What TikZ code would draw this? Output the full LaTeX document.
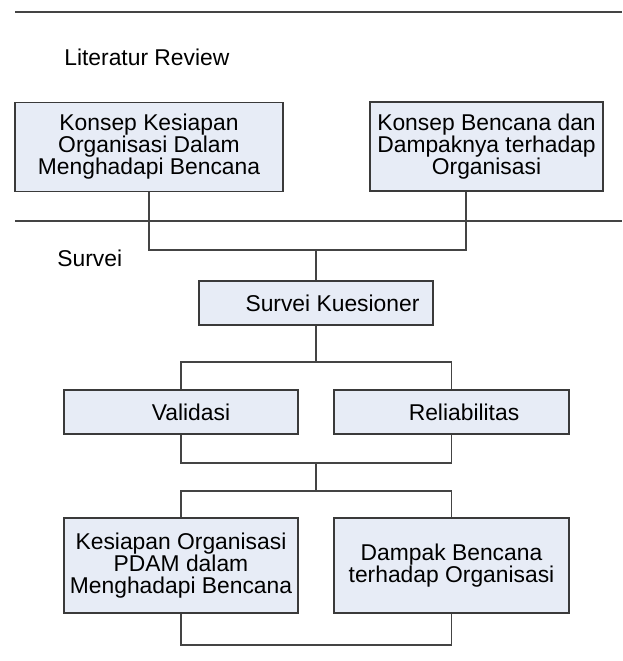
\documentclass[tikz,border=0pt]{standalone}
\usepackage{fontspec}
\setmainfont{Liberation Sans}
\usepackage{xcolor}
\definecolor{boxfill}{HTML}{E7ECF6}
\definecolor{boxline}{HTML}{3A3A3A}
\definecolor{ruleline}{HTML}{444444}

\begin{document}
\begin{tikzpicture}[
  x=0.02cm,
  y=-0.02cm,
  every node/.style={font=\fontsize{13}{12.5}\selectfont, text=black},
  stage/.style={draw=boxline, fill=boxfill, line width=0.7pt, align=center,
                inner sep=0pt},
  topbox/.style={stage, minimum height=1.78cm},
  flatbox/.style={stage, minimum width=4.68cm, minimum height=0.88cm},
  tallbox/.style={stage, minimum width=4.68cm, minimum height=1.90cm},
  link/.style={ruleline, line width=0.7pt},
  divider/.style={ruleline, line width=0.7pt}
]
  \useasboundingbox (0,0) rectangle (622,661);

  % ---- section rules ----
  \draw[divider] (15,12) -- (622,12);
  \draw[divider] (15,221) -- (622,221);

  % ---- section titles ----
  \node[anchor=base west, inner sep=0pt] (littitle) at (64,66) {Literatur Review};
  \node[anchor=base west, inner sep=0pt] (survtitle) at (57,267) {Survei};

  % ---- literature boxes ----
  \node[topbox, minimum width=5.36cm] (konsepa) at (149,147)
    {Konsep Kesiapan\\Organisasi Dalam\\Menghadapi Bencana};
  \node[topbox, minimum width=4.66cm] (konsepb) at (486.5,146.5)
    {Konsep Bencana dan\\Dampaknya terhadap\\Organisasi};

  % ---- survey boxes (labels sit a little right of centre) ----
  \node[flatbox] (kuesioner) at (316,303) {\hspace*{0.66cm}Survei Kuesioner};
  \node[flatbox] (validasi) at (181,412) {\hspace*{0.4cm}Validasi};
  \node[flatbox, minimum width=4.70cm] (reliabel) at (451.5,412)
    {\hspace*{0.5cm}Reliabilitas};

  % ---- result boxes ----
  \node[tallbox] (kesiapan) at (181,565.5)
    {Kesiapan Organisasi\\PDAM dalam\\Menghadapi Bencana};
  \node[tallbox, minimum width=4.70cm] (dampak) at (451.5,565.5)
    {Dampak Bencana\\terhadap Organisasi};

  % ---- junctions ----
  \coordinate (jlit) at (316,250);
  \coordinate (jsurv) at (316,362);
  \coordinate (jval) at (316,463);
  \coordinate (jhasil) at (316,491);
  \coordinate (jend) at (316,645);

  % ---- connectors ----
  \draw[link] (konsepa.south) |- (jlit) -| ([xshift=-0.41cm]konsepb.south);
  \draw[link] (jlit) -- (kuesioner.north);
  \draw[link] (kuesioner.south) -- (jsurv);
  \draw[link] (validasi.north) |- (jsurv) -| (reliabel.north);
  \draw[link] (validasi.south) |- (jval) -| (reliabel.south);
  \draw[link] (jval) -- (jhasil);
  \draw[link] (kesiapan.north) |- (jhasil) -| (dampak.north);
  \draw[link] (kesiapan.south) |- (jend) -| (dampak.south);
\end{tikzpicture}
\end{document}
